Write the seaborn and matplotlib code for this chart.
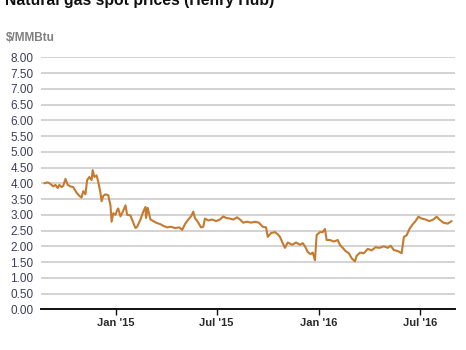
import matplotlib
matplotlib.use("Agg")
import matplotlib.pyplot as plt
import seaborn as sns
import pandas as pd

dates = [
    "2014-08-25", "2014-08-31", "2014-09-05", "2014-09-10", "2014-09-14", "2014-09-18",
    "2014-09-21", "2014-09-25", "2014-09-28", "2014-10-02", "2014-10-06", "2014-10-11",
    "2014-10-16", "2014-10-22", "2014-10-27", "2014-10-31", "2014-11-03", "2014-11-07",
    "2014-11-10", "2014-11-14", "2014-11-18", "2014-11-20", "2014-11-23", "2014-11-27",
    "2014-11-30", "2014-12-04", "2014-12-06", "2014-12-09", "2014-12-13", "2014-12-18",
    "2014-12-22", "2014-12-24", "2014-12-27", "2014-12-31", "2015-01-03", "2015-01-05",
    "2015-01-09", "2015-01-12", "2015-01-18", "2015-01-21", "2015-01-27", "2015-02-01",
    "2015-02-05", "2015-02-08", "2015-02-14", "2015-02-19", "2015-02-23", "2015-02-24",
    "2015-02-27", "2015-03-04", "2015-03-09", "2015-03-14", "2015-03-22", "2015-03-27",
    "2015-04-03", "2015-04-10", "2015-04-17", "2015-04-25", "2015-04-30", "2015-05-05",
    "2015-05-11", "2015-05-16", "2015-05-20", "2015-05-23", "2015-05-29", "2015-06-03",
    "2015-06-07", "2015-06-10", "2015-06-16", "2015-06-23", "2015-06-30", "2015-07-07",
    "2015-07-13", "2015-07-18", "2015-07-25", "2015-07-31", "2015-08-07", "2015-08-12",
    "2015-08-18", "2015-08-25", "2015-09-01", "2015-09-08", "2015-09-15", "2015-09-22",
    "2015-09-28", "2015-10-01", "2015-10-07", "2015-10-14", "2015-10-19", "2015-10-23",
    "2015-10-28", "2015-11-01", "2015-11-06", "2015-11-14", "2015-11-21", "2015-11-28",
    "2015-12-03", "2015-12-07", "2015-12-12", "2015-12-17", "2015-12-21", "2015-12-25",
    "2015-12-28", "2016-01-03", "2016-01-08", "2016-01-12", "2016-01-15", "2016-01-21",
    "2016-01-28", "2016-02-04", "2016-02-08", "2016-02-13", "2016-02-18", "2016-02-24",
    "2016-02-29", "2016-03-06", "2016-03-09", "2016-03-15", "2016-03-22", "2016-03-29",
    "2016-04-05", "2016-04-12", "2016-04-19", "2016-04-27", "2016-05-04", "2016-05-09",
    "2016-05-15", "2016-05-22", "2016-05-29", "2016-06-02", "2016-06-07", "2016-06-12",
    "2016-06-18", "2016-06-23", "2016-06-28", "2016-07-04", "2016-07-11", "2016-07-18",
    "2016-07-25", "2016-07-31", "2016-08-05", "2016-08-12", "2016-08-20", "2016-08-27",
]
prices = [
    4.00, 4.03, 3.98, 3.90, 3.95, 3.85,
    3.95, 3.88, 3.92, 4.14, 3.95, 3.90,
    3.88, 3.70, 3.60, 3.55, 3.75, 3.65,
    4.10, 4.20, 4.10, 4.42, 4.20, 4.25,
    4.05, 3.70, 3.43, 3.60, 3.65, 3.62,
    3.30, 2.78, 3.05, 3.00, 3.15, 3.20,
    2.95, 3.05, 3.30, 3.00, 2.98, 2.75,
    2.58, 2.62, 2.85, 3.10, 3.25, 2.90,
    3.22, 2.85, 2.80, 2.75, 2.70, 2.65,
    2.60, 2.62, 2.58, 2.60, 2.52, 2.70,
    2.85, 2.95, 3.10, 2.90, 2.75, 2.60,
    2.62, 2.88, 2.82, 2.85, 2.80, 2.85,
    2.95, 2.90, 2.88, 2.85, 2.92, 2.85,
    2.75, 2.78, 2.75, 2.78, 2.75, 2.62,
    2.60, 2.30, 2.42, 2.45, 2.38, 2.30,
    2.10, 1.95, 2.12, 2.05, 2.12, 2.05,
    2.10, 2.00, 1.82, 1.75, 1.80, 1.56,
    2.36, 2.45, 2.45, 2.55, 2.20, 2.20,
    2.15, 2.20, 2.04, 1.95, 1.85, 1.78,
    1.62, 1.52, 1.70, 1.80, 1.78, 1.92,
    1.87, 1.97, 1.95, 2.00, 1.95, 2.02,
    1.88, 1.85, 1.78, 2.30, 2.35, 2.55,
    2.70, 2.80, 2.94, 2.88, 2.85, 2.80,
    2.85, 2.94, 2.85, 2.75, 2.72, 2.80,
]
y_ticks = [0, 0.5, 1, 1.5, 2, 2.5, 3, 3.5, 4, 4.5, 5, 5.5, 6, 6.5, 7, 7.5, 8]
x_ticks = ["2015-01-01", "2015-07-01", "2016-01-01", "2016-07-01"]
x_tick_labels = ["Jan '15", "Jul '15", "Jan '16", "Jul '16"]
title = "Natural gas spot prices (Henry Hub)"
unit = "$/MMBtu"

sns.set_theme(style="white")
plt.rcParams["font.family"] = ["Liberation Sans", "DejaVu Sans"]

df = pd.DataFrame({"date": pd.to_datetime(dates), "price": prices})

fig = plt.figure(figsize=(4.66, 3.5), dpi=100)
ax = fig.add_axes([41 / 466, 1 - 309.3 / 350, (455 - 41) / 466, (309.3 - 57.3) / 350])

sns.lineplot(data=df, x="date", y="price", ax=ax, color="#c57a2e", linewidth=1.5)

ax.set_xlim(pd.Timestamp("2014-08-19"), pd.Timestamp("2016-09-02"))
ax.set_ylim(0, 8)
ax.set_yticks(y_ticks)
ax.set_yticklabels([f"{v:.2f}" for v in y_ticks], color="#3d3d5c", fontsize=8.5)
ax.set_xticks(pd.to_datetime(x_ticks))
ax.set_xticklabels(x_tick_labels, color="#2a2a2a", fontsize=8, fontweight="bold")
ax.set_xlabel("")
ax.set_ylabel("")

ax.grid(axis="y", color="#cccccc", linewidth=1.2)
ax.set_axisbelow(True)
for s in ["top", "right", "left"]:
    ax.spines[s].set_visible(False)
ax.spines["bottom"].set_color("#111111")
ax.spines["bottom"].set_linewidth(1.4)
ax.tick_params(axis="x", bottom=True, direction="out", length=4, width=1, color="#111111", pad=2)
ax.tick_params(axis="y", left=False, length=0, pad=5.5)

fig.text(5 / 466, 1 - 5 / 350, title, fontsize=11.3, fontweight="bold", color="#111111",
         ha="left", va="baseline")
fig.text(6 / 466, 1 - 41 / 350, unit, fontsize=8.5, fontweight="bold", color="#808080",
         ha="left", va="baseline")

fig.savefig("out.png", dpi=100)
